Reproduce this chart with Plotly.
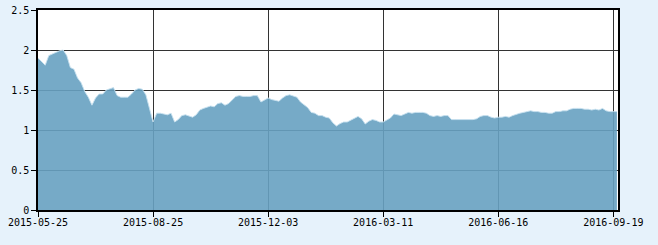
import plotly.graph_objects as go

# values sampled every 2 trading days
values = [
    1.90, 1.86, 1.81, 1.93, 1.95, 1.98, 1.99, 2.00, 1.93, 1.78,
    1.76, 1.65, 1.59, 1.48, 1.41, 1.31, 1.40, 1.45, 1.45, 1.50,
    1.52, 1.53, 1.43, 1.41, 1.41, 1.41, 1.45, 1.50, 1.52, 1.51,
    1.44, 1.25, 1.10, 1.21, 1.21, 1.20, 1.19, 1.21, 1.10, 1.13,
    1.18, 1.19, 1.17, 1.16, 1.19, 1.25, 1.27, 1.29, 1.30, 1.29,
    1.33, 1.34, 1.31, 1.33, 1.38, 1.42, 1.43, 1.42, 1.42, 1.42,
    1.43, 1.43, 1.35, 1.38, 1.40, 1.38, 1.37, 1.36, 1.40, 1.43,
    1.44, 1.42, 1.41, 1.35, 1.32, 1.28, 1.22, 1.21, 1.18, 1.18,
    1.16, 1.15, 1.09, 1.05, 1.08, 1.10, 1.10, 1.12, 1.14, 1.17,
    1.14, 1.075, 1.11, 1.13, 1.12, 1.10, 1.10, 1.13, 1.15, 1.20,
    1.19, 1.18, 1.20, 1.22, 1.21, 1.22, 1.22, 1.22, 1.21, 1.18,
    1.17, 1.18, 1.17, 1.18, 1.18, 1.13, 1.13, 1.13, 1.13, 1.13,
    1.13, 1.13, 1.14, 1.17, 1.18, 1.18, 1.16, 1.15, 1.16, 1.16,
    1.17, 1.16, 1.18, 1.20, 1.21, 1.22, 1.23, 1.24, 1.23, 1.23,
    1.22, 1.22, 1.21, 1.21, 1.23, 1.23, 1.24, 1.24, 1.26, 1.27,
    1.27, 1.27, 1.26, 1.26, 1.25, 1.26, 1.25, 1.27, 1.24, 1.23,
    1.23, 1.23,
]
step = 2  # trading days per sample
x_index = [i * step for i in range(len(values))]

tick_positions = [0, 64, 128, 192, 256, 320]
tick_labels = ["2015-05-25", "2015-08-25", "2015-12-03",
               "2016-03-11", "2016-06-16", "2016-09-19"]

fig = go.Figure()
fig.add_trace(go.Scatter(
    x=x_index, y=values, mode="lines",
    line=dict(color="rgba(200,225,240,0.9)", width=1),
    fill="tozeroy", fillcolor="rgba(103,161,193,0.9)",
    hoverinfo="skip",
))

axis_font = dict(family="DejaVu Sans Mono", size=10, color="#000")
fig.update_layout(
    width=658, height=245,
    margin=dict(l=38, r=40, t=10, b=35, autoexpand=False),
    paper_bgcolor="#E6F2FB", plot_bgcolor="#FFFFFF",
    showlegend=False,
    xaxis=dict(
        range=[0, 322.6], tickmode="array", tickvals=tick_positions,
        ticktext=tick_labels, tickfont=axis_font, automargin=False,
        ticklabelstandoff=-3,
        showgrid=True, gridcolor="#333333", gridwidth=1,
        showline=True, linecolor="#000", linewidth=1.5, mirror=True,
        ticks="outside", ticklen=5, tickcolor="#000", zeroline=False,
    ),
    yaxis=dict(
        range=[0, 2.5], tickmode="array", tickvals=[0, 0.5, 1, 1.5, 2, 2.5],
        tickfont=axis_font, automargin=False,
        showgrid=True, gridcolor="#333333", gridwidth=1,
        showline=True, linecolor="#000", linewidth=1.5, mirror=True,
        ticks="outside", ticklen=5, tickcolor="#000", zeroline=False,
    ),
)
fig.write_html("out.html")
